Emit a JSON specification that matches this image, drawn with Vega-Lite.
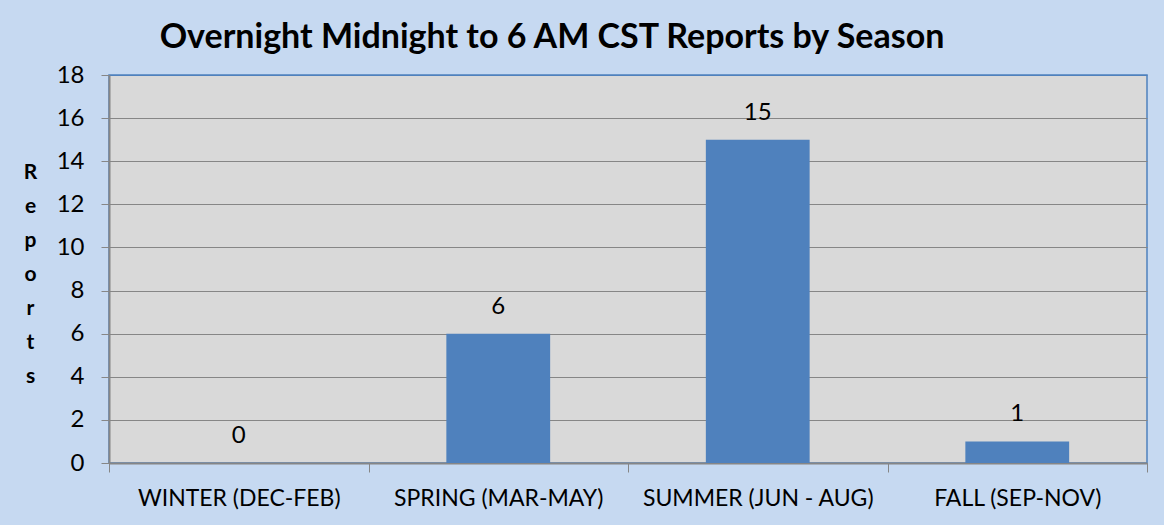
{
  "$schema": "https://vega.github.io/schema/vega-lite/v6.json",
  "autosize": {"type": "none"},
  "padding": {"left": 109, "top": 75, "right": 17, "bottom": 62},
  "width": 1038,
  "height": 388,
  "background": "#C6D9F1",
  "title": {
    "text": "Overnight Midnight to 6 AM CST Reports by Season",
    "anchor": "middle",
    "dx": -76,
    "dy": 14,
    "offset": 22,
    "font": "Lato",
    "fontSize": 34,
    "fontWeight": "bold",
    "color": "#000000"
  },
  "data": {
    "values": [
      {"season": "WINTER (DEC-FEB)", "reports": 0},
      {"season": "SPRING (MAR-MAY)", "reports": 6},
      {"season": "SUMMER (JUN - AUG)", "reports": 15},
      {"season": "FALL (SEP-NOV)", "reports": 1}
    ]
  },
  "encoding": {
    "x": {
      "field": "season",
      "type": "nominal",
      "sort": null,
      "scale": {"paddingInner": 0, "paddingOuter": 0},
      "axis": {
        "title": null,
        "labelAngle": 0,
        "labelLimit": 0,
        "tickBand": "extent",
        "tickSize": 9,
        "tickColor": "#868686",
        "domainColor": "#868686",
        "domainWidth": 2,
        "labelFont": "Lato",
        "labelFontSize": 23,
        "labelColor": "#000000",
        "labelPadding": 15
      }
    },
    "y": {
      "field": "reports",
      "type": "quantitative",
      "scale": {"domain": [0, 18], "nice": false},
      "axis": {
        "values": [0, 2, 4, 6, 8, 10, 12, 14, 16, 18],
        "title": ["R", "e", "p", "o", "r", "t", "s"],
        "titleAngle": 0,
        "titleFont": "Lato",
        "titleFontSize": 21,
        "titleFontWeight": "bold",
        "titleLineHeight": 34,
        "titleX": -79,
        "titleY": 86,
        "titleAlign": "center",
        "titleBaseline": "top",
        "titleColor": "#000000",
        "tickSize": 8,
        "tickColor": "#868686",
        "domainColor": "#868686",
        "domainWidth": 2,
        "gridColor": {"condition": {"test": "datum.value === 18", "value": "#4F81BD"}, "value": "#868686"},
        "gridWidth": 1,
        "labelFont": "Lato",
        "labelFontSize": 24,
        "labelColor": "#000000",
        "labelPadding": 17
      }
    }
  },
  "layer": [
    {"mark": {"type": "bar", "color": "#4F81BD", "width": {"band": 0.4}}},
    {
      "mark": {"type": "text", "dy": -27, "baseline": "middle", "font": "Lato", "fontSize": 24, "color": "#000000"},
      "encoding": {"text": {"field": "reports", "type": "quantitative"}}
    }
  ],
  "config": {
    "view": {"fill": "#D9D9D9", "stroke": "#4F81BD", "strokeWidth": 1.5}
  }
}
